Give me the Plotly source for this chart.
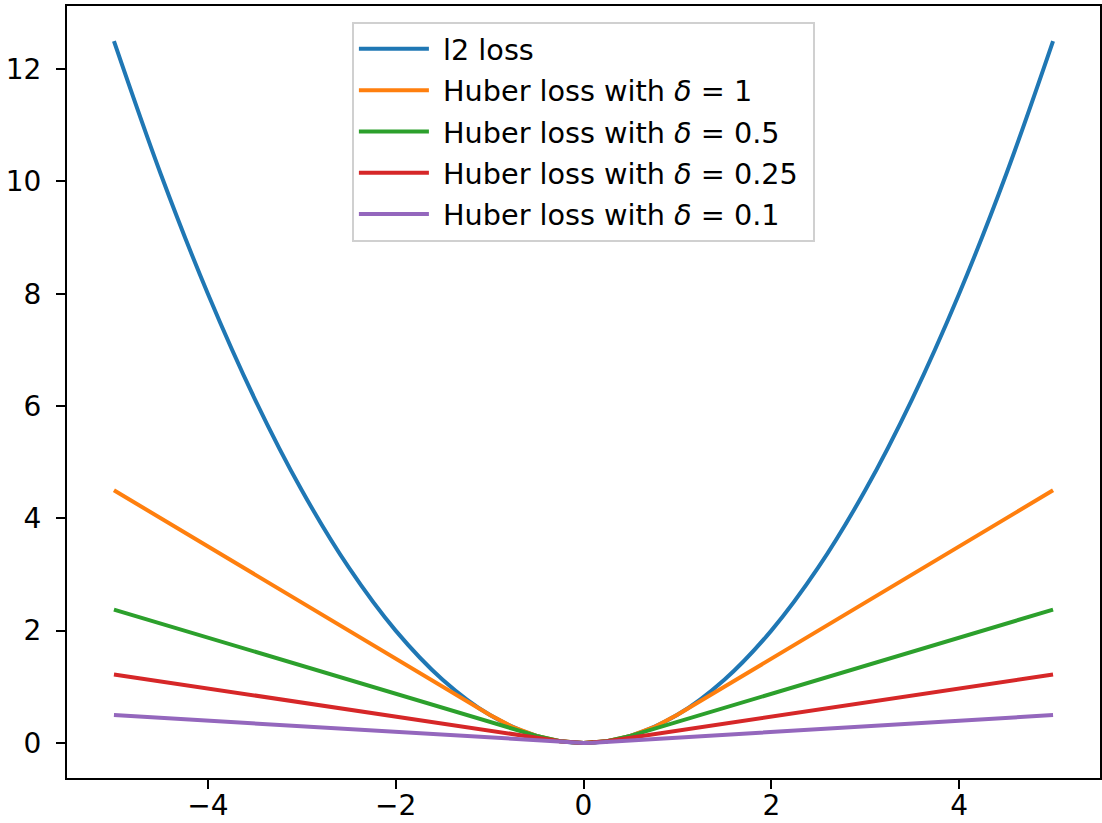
import plotly.graph_objects as go

# values
x_l2 = [-5, -4.5, -4, -3.5, -3, -2.5, -2, -1.5, -1, -0.5, 0, 0.5, 1, 1.5, 2, 2.5, 3, 3.5, 4, 4.5, 5]
y_l2 = [12.5, 10.125, 8.0, 6.125, 4.5, 3.125, 2.0, 1.125, 0.5, 0.125, 0.0, 0.125, 0.5, 1.125, 2.0, 3.125, 4.5, 6.125, 8.0, 10.125, 12.5]

x_h1 = [-5, -1, -0.75, -0.5, -0.25, 0, 0.25, 0.5, 0.75, 1, 5]
y_h1 = [4.5, 0.5, 0.28, 0.125, 0.031, 0.0, 0.031, 0.125, 0.28, 0.5, 4.5]

x_h05 = [-5, -0.5, -0.25, 0, 0.25, 0.5, 5]
y_h05 = [2.375, 0.125, 0.031, 0.0, 0.031, 0.125, 2.375]

x_h025 = [-5, -0.25, 0, 0.25, 5]
y_h025 = [1.22, 0.031, 0.0, 0.031, 1.22]

x_h01 = [-5, -0.1, 0, 0.1, 5]
y_h01 = [0.495, 0.005, 0.0, 0.005, 0.495]

names = ["l2 loss",
         "Huber loss with <i>δ</i> = 1",
         "Huber loss with <i>δ</i> = 0.5",
         "Huber loss with <i>δ</i> = 0.25",
         "Huber loss with <i>δ</i> = 0.1"]
colors = ["#1f77b4", "#ff7f0e", "#2ca02c", "#d62728", "#9467bd"]

series = [(x_l2, y_l2, "spline"), (x_h1, y_h1, "linear"), (x_h05, y_h05, "linear"),
          (x_h025, y_h025, "linear"), (x_h01, y_h01, "linear")]

fig = go.Figure()
for i, ((xs, ys, shape), name, c) in enumerate(zip(series, names, colors)):
    fig.add_trace(go.Scatter(x=xs, y=ys, mode="lines", name="\u00a0" + name + "\u00a0",
                             legendgroup=f"g{i}",
                             line=dict(color=c, width=4, shape=shape)))

axis_common = dict(showline=True, linecolor="black", linewidth=2, mirror=True,
                   ticks="outside", ticklen=9, tickwidth=2, tickcolor="black",
                   showgrid=False, zeroline=False, automargin=False,
                   tickfont=dict(family="DejaVu Sans", size=28, color="black"))

fig.update_layout(
    width=1102, height=823,
    margin=dict(l=67, r=2, t=6, b=45),
    paper_bgcolor="white", plot_bgcolor="white",
    font=dict(family="DejaVu Sans", size=28, color="black"),
    xaxis=dict(range=[-5.5, 5.5], tickvals=[-4, -2, 0, 2, 4],
               ticklabelstandoff=-8, **axis_common),
    yaxis=dict(range=[-0.625, 13.125], tickvals=[0, 2, 4, 6, 8, 10, 12],
               ticklabelstandoff=9, **axis_common),
    legend=dict(x=0.2758, y=0.9797, xanchor="left", yanchor="top",
                bgcolor="white", bordercolor="#d0d0d0", borderwidth=2,
                tracegroupgap=1, itemwidth=70,
                font=dict(family="DejaVu Sans", size=28.7, color="black")),
    showlegend=True,
)

fig.write_html("out.html")
